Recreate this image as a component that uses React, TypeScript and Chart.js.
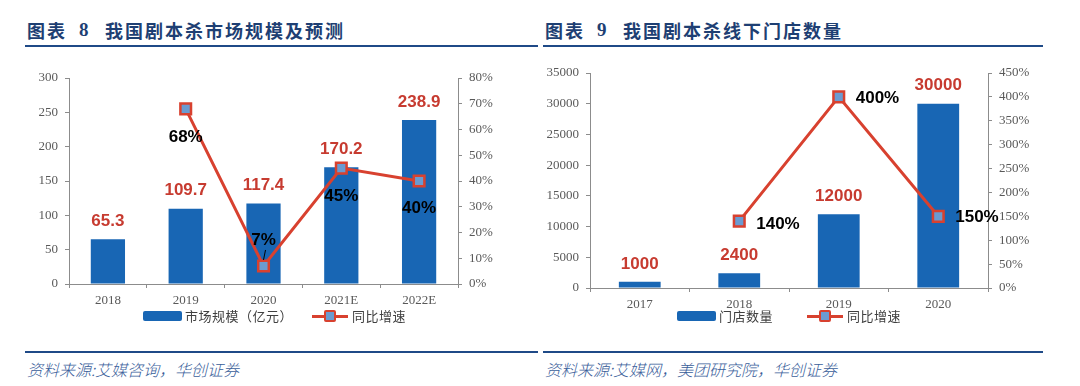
import React, { useEffect, useRef } from "react";
import { Chart, registerables } from "chart.js";

Chart.register(...registerables);

// ---------- data ----------
const marketYears = ["2018", "2019", "2020", "2021E", "2022E"];
const marketSize = [65.3, 109.7, 117.4, 170.2, 238.9];
const marketGrowth = [null, 68, 7, 45, 40];
const marketSizeTicks = { min: 0, max: 300, step: 50 };
const marketGrowthTicks = { min: 0, max: 80, step: 10 };

const storeYears = ["2017", "2018", "2019", "2020"];
const storeCount = [1000, 2400, 12000, 30000];
const storeGrowth = [null, 140, 400, 150];
const storeCountTicks = { min: 0, max: 35000, step: 5000 };
const storeGrowthTicks = { min: 0, max: 450, step: 50 };

// ---------- style ----------
const BAR = "#1866B4";
const RED = "#D8412F";
const LABEL_RED = "#C73B30";
const MARK_FILL = "#6A9BD1";
const AXIS = "#8C8C8C";
const TICK_TXT = "#595959";
const NAVY = "#1E3F73";
const RULE = "#1F4A87";
const SRC = "#3A5E9A";
const tickFont = { family: "'Liberation Serif', 'Times New Roman', serif", size: 13 };

type Place = { dx: number; dy: number; align: CanvasTextAlign; leader?: boolean };

const valueLabels = {
  id: "valueLabels",
  afterDatasetsDraw(chart: any, _a: any, opts: any) {
    const ctx = chart.ctx as CanvasRenderingContext2D;
    ctx.save();
    ctx.font = "bold 17px 'Liberation Sans', Arial, sans-serif";
    ctx.textBaseline = "middle";
    const barData = chart.data.datasets[0].data;
    chart.getDatasetMeta(0).data.forEach((el: any, i: number) => {
      ctx.fillStyle = LABEL_RED;
      ctx.textAlign = "center";
      ctx.fillText(String(barData[i]), el.x, el.y - 18);
    });
    const lineData = chart.data.datasets[1].data;
    const places: Place[] = opts.places;
    chart.getDatasetMeta(1).data.forEach((el: any, i: number) => {
      const v = lineData[i];
      if (v == null) return;
      const p = places[i];
      ctx.fillStyle = "#000";
      ctx.textAlign = p.align;
      ctx.fillText(v + "%", el.x + p.dx, el.y + p.dy);
      if (p.leader) {
        ctx.strokeStyle = "#000";
        ctx.lineWidth = 1;
        ctx.beginPath();
        ctx.moveTo(el.x + 2, el.y + p.dy + 10);
        ctx.lineTo(el.x, el.y - 6);
        ctx.stroke();
      }
    });
    ctx.restore();
  },
};

function axisY(position: "left" | "right", t: { min: number; max: number; step: number }, width: number, pct: boolean) {
  return {
    type: "linear",
    position,
    min: t.min,
    max: t.max,
    afterFit: (s: any) => {
      s.width = width;
    },
    ticks: {
      stepSize: t.step,
      font: tickFont,
      color: TICK_TXT,
      padding: 7,
      callback: (v: any) => (pct ? v + "%" : String(v)),
    },
    grid: { display: true, drawOnChartArea: false, drawTicks: true, tickLength: 4, color: AXIS },
    border: { display: true, color: AXIS, width: 1 },
  };
}

function makeChart(
  canvas: HTMLCanvasElement,
  labels: string[],
  bars: number[],
  growth: (number | null)[],
  leftT: any,
  rightT: any,
  dims: { top: number; left: number; right: number; xh: number },
  barPct: number,
  places: Place[]
) {
  return new Chart(canvas, {
    type: "bar",
    data: {
      labels,
      datasets: [
        {
          type: "bar",
          data: bars,
          backgroundColor: BAR,
          yAxisID: "y",
          order: 2,
          categoryPercentage: 1,
          barPercentage: barPct,
        },
        {
          type: "line",
          data: growth as any,
          yAxisID: "y1",
          order: 1,
          borderColor: RED,
          borderWidth: 3,
          tension: 0,
          pointStyle: "rect",
          pointRadius: 7.5,
          pointBorderWidth: 2.5,
          pointBorderColor: RED,
          pointBackgroundColor: MARK_FILL,
        },
      ],
    } as any,
    options: {
      responsive: false,
      animation: false,
      layout: { padding: { left: 0, right: 0, top: dims.top, bottom: 0 } },
      plugins: {
        legend: { display: false },
        tooltip: { enabled: false },
        valueLabels: { places },
      } as any,
      scales: {
        x: {
          type: "category",
          offset: true,
          afterFit: (s: any) => {
            s.height = dims.xh;
          },
          ticks: { font: tickFont, color: TICK_TXT, padding: 5, maxRotation: 0, autoSkip: false },
          grid: { display: true, offset: true, drawOnChartArea: false, drawTicks: true, tickLength: 4, color: AXIS },
          border: { display: true, color: AXIS, width: 1 },
        },
        y: axisY("left", leftT, dims.left, false),
        y1: axisY("right", rightT, dims.right, true),
      } as any,
    },
    plugins: [valueLabels],
  });
}

function ChartCanvas(props: {
  left: number;
  top: number;
  width: number;
  height: number;
  build: (c: HTMLCanvasElement) => Chart;
}) {
  const ref = useRef<HTMLCanvasElement | null>(null);
  useEffect(() => {
    if (!ref.current) return;
    const ch = props.build(ref.current);
    return () => ch.destroy();
  }, []);
  return (
    <canvas
      ref={ref}
      width={props.width}
      height={props.height}
      style={{ position: "absolute", left: props.left, top: props.top, width: props.width, height: props.height, display: "block" }}
    />
  );
}

const cjk = "'Noto Sans CJK SC', 'Noto Sans', sans-serif";

function Title(props: { x: number; num: string; numX: number; textX: number; text: string }) {
  const base: React.CSSProperties = {
    position: "absolute",
    top: 19,
    lineHeight: "22px",
    fontSize: 18,
    fontWeight: 700,
    color: NAVY,
    whiteSpace: "nowrap",
  };
  return (
    <>
      <span style={{ ...base, left: props.x, fontFamily: cjk, letterSpacing: 2 }}>图表</span>
      <span style={{ ...base, left: props.numX, fontFamily: "'Liberation Serif', serif", fontSize: 19 }}>{props.num}</span>
      <span style={{ ...base, left: props.textX, fontFamily: cjk, letterSpacing: 2 }}>{props.text}</span>
    </>
  );
}

function Rule(props: { x1: number; x2: number; y: number }) {
  return <div style={{ position: "absolute", left: props.x1, top: props.y, width: props.x2 - props.x1, height: 2, background: RULE }} />;
}

function Legend(props: { boxX: number; boxLabel: string; lineX: number; y: number }) {
  const txt: React.CSSProperties = {
    position: "absolute",
    top: props.y - 9,
    lineHeight: "18px",
    fontSize: 13,
    fontFamily: cjk,
    color: "#404040",
    whiteSpace: "nowrap",
    letterSpacing: 0.5,
  };
  return (
    <>
      <div style={{ position: "absolute", left: props.boxX, top: props.y - 5, width: 39, height: 10, background: BAR, borderRadius: 2 }} />
      <span style={{ ...txt, left: props.boxX + 42 }}>{props.boxLabel}</span>
      <div style={{ position: "absolute", left: props.lineX, top: props.y - 1.5, width: 36, height: 3, background: RED }} />
      <div
        style={{
          position: "absolute",
          left: props.lineX + 18 - 6,
          top: props.y - 6,
          width: 8,
          height: 8,
          background: MARK_FILL,
          border: `2px solid ${RED}`,
          borderRadius: 2,
        }}
      />
      <span style={{ ...txt, left: props.lineX + 40 }}>同比增速</span>
    </>
  );
}

function Source(props: { x: number; text: string }) {
  return (
    <span
      style={{
        position: "absolute",
        left: props.x,
        top: 359,
        lineHeight: "20px",
        fontSize: 16,
        fontStyle: "italic",
        fontWeight: 300,
        fontFamily: cjk,
        color: SRC,
        whiteSpace: "nowrap",
      }}
    >
      {props.text}
    </span>
  );
}

const marketPlaces: Place[] = [
  { dx: 0, dy: 0, align: "center" },
  { dx: 0, dy: 28, align: "center" },
  { dx: 0, dy: -26, align: "center", leader: true },
  { dx: 0, dy: 28, align: "center" },
  { dx: 0, dy: 27, align: "center" },
];
const storePlaces: Place[] = [
  { dx: 0, dy: 0, align: "left" },
  { dx: 17, dy: 3, align: "left" },
  { dx: 17, dy: 1, align: "left" },
  { dx: 17, dy: 1, align: "left" },
];

export default function App() {
  return (
    <div style={{ position: "fixed", left: 0, top: 0, width: 1080, height: 386, background: "#fff", overflow: "hidden" }}>
      <Title x={27} num="8" numX={79} textX={105} text="我国剧本杀市场规模及预测" />
      <Title x={545} num="9" numX={597} textX={623} text="我国剧本杀线下门店数量" />
      <Rule x1={25} x2={538} y={45} />
      <Rule x1={543} x2={1043} y={45} />

      <ChartCanvas
        left={0}
        top={60}
        width={540}
        height={250}
        build={(c) =>
          makeChart(c, marketYears, marketSize, marketGrowth, marketSizeTicks, marketGrowthTicks, { top: 18, left: 69, right: 82, xh: 26 }, 0.44, marketPlaces)
        }
      />
      <ChartCanvas
        left={540}
        top={55}
        width={540}
        height={260}
        build={(c) =>
          makeChart(c, storeYears, storeCount, storeGrowth, storeCountTicks, storeGrowthTicks, { top: 18, left: 50, right: 92, xh: 27 }, 0.42, storePlaces)
        }
      />

      <Legend boxX={143} boxLabel="市场规模（亿元）" lineX={312} y={316} />
      <Legend boxX={677} boxLabel="门店数量" lineX={807} y={316} />

      <Rule x1={25} x2={538} y={351} />
      <Rule x1={543} x2={1043} y={351} />
      <Source x={27} text="资料来源:艾媒咨询，华创证券" />
      <Source x={545} text="资料来源:艾媒网，美团研究院，华创证券" />
    </div>
  );
}
